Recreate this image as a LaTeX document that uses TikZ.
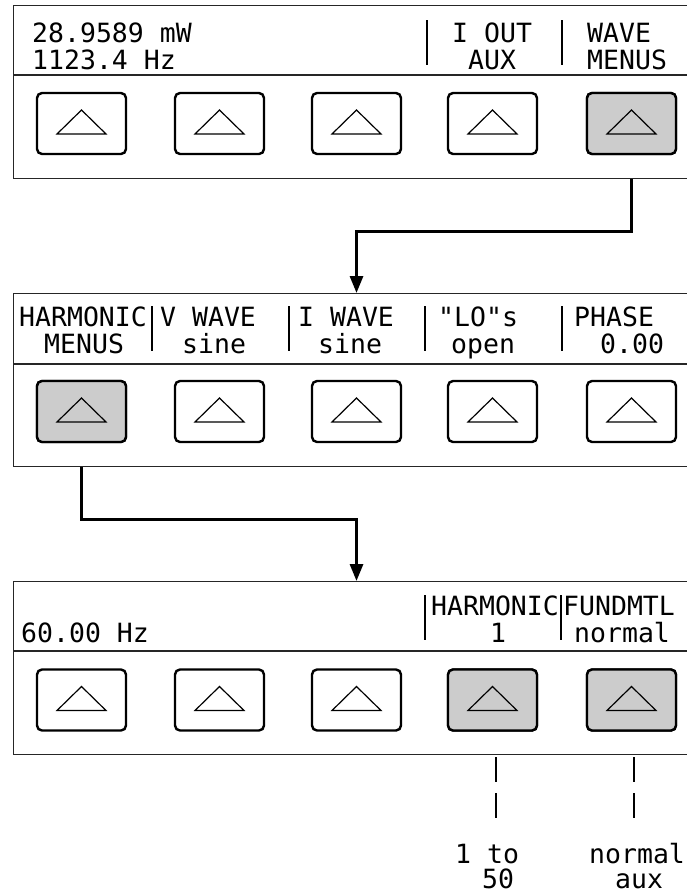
\documentclass[tikz,border=0pt]{standalone}
\usepackage{fontspec}
\newfontfamily\lcdfont{DejaVu Sans Mono}
\usetikzlibrary{arrows.meta}
\begin{document}
\begin{tikzpicture}[x=1pt,y=-1pt,
  panel/.style={draw=black!85, line width=1.3pt, inner sep=0pt, anchor=north west, minimum width=720pt},
  btn/.style={draw=black, line width=2.4pt, rounded corners=5pt, minimum width=89pt, minimum height=61pt, inner sep=0pt, fill=white},
  btnon/.style={btn, fill=black!20},
  lcd/.style={anchor=base west, inner sep=0pt, font=\lcdfont\fontsize{26.5}{26.5}\selectfont},
  sepline/.style={line width=2.4pt},
  conn/.style={line width=3pt, -{Triangle[length=17pt,width=13pt]}},
  hint/.style={line width=1.3pt, dash pattern=on 25pt off 11pt},
  tri/.style={line width=1.2pt}]
\useasboundingbox (0,0) rectangle (687,895);
\clip (0,0) rectangle (687,895);
\fill[white] (0,0) rectangle (687,895);

% panels
\node[panel, minimum height=173pt] (p1) at (13,5) {};
\node[panel, minimum height=173pt] (p2) at (13,293) {};
\node[panel, minimum height=173pt] (p3) at (13,581) {};
\draw[panel] (13,75) -- (733,75);
\draw[panel] (13,364) -- (733,364);
\draw[panel] (13,651) -- (733,651);

% buttons
\foreach \i/\x in {1/37,2/175,3/312,4/448,5/587}{
  \node[btn] (b1\i) at (\x+44.5,123.5) {};
  \node[btn] (b2\i) at (\x+44.5,411.5) {};
  \node[btn] (b3\i) at (\x+44.5,700) {};
}
\node[btnon] at (b15) {};
\node[btnon] at (b21) {};
\node[btnon] at (b34) {};
\node[btnon] at (b35) {};
\foreach \b in {b11,b12,b13,b14,b15,b21,b22,b23,b24,b25,b31,b32,b33,b34,b35}
  \draw[tri] ([shift={(-24.5pt,-10.5pt)}]\b.center) -- ([shift={(24.5pt,-10.5pt)}]\b.center) -- ([shift={(0pt,13.5pt)}]\b.center) -- cycle;

% panel 1 texts
\node[lcd] (t1a) at (32,42) {28.9589 mW};
\node[lcd] (t1b) at (32,69) {1123.4 Hz};
\node[lcd] (t1c) at (452,42) {I OUT};
\node[lcd] (t1d) at (468,69) {AUX};
\node[lcd] (t1e) at (587,42) {WAVE};
\node[lcd] (t1f) at (587,69) {MENUS};
\draw[sepline] (427,20) -- (427,65);
\draw[sepline] (562,20) -- (562,65);

% panel 2 texts
\node[lcd] (t2a) at (19,326) {HARMONIC};
\node[lcd] (t2b) at (44,353) {MENUS};
\node[lcd] (t2c) at (160,326) {V WAVE};
\node[lcd] (t2d) at (182,353) {sine};
\node[lcd] (t2e) at (298,326) {I WAVE};
\node[lcd] (t2f) at (318,353) {sine};
\node[lcd] (t2g) at (438,326) {"LO"s};
\node[lcd] (t2h) at (451,353) {open};
\node[lcd] (t2i) at (574,326) {PHASE};
\node[lcd] (t2j) at (600,353) {0.00};
\draw[sepline] (152,306) -- (152,351);
\draw[sepline] (289,306) -- (289,351);
\draw[sepline] (425,306) -- (425,351);
\draw[sepline] (562,306) -- (562,351);

% panel 3 texts
\node[lcd] (t3a) at (21,642) {60.00 Hz};
\node[lcd] (t3b) at (431,615) {HARMONIC};
\node[lcd] (t3c) at (490,642) {1};
\node[lcd] (t3d) at (563,615) {FUNDMTL};
\node[lcd] (t3e) at (574,642) {normal};
\draw[sepline] (425,595) -- (425,640);
\draw[sepline] (561,595) -- (561,640);

% connectors
\coordinate (k1) at (0,231);
\coordinate (k2) at (0,519);
\draw[conn] (b15 |- p1.south) -- (b15 |- k1) -| (b23 |- p2.north);
\draw[conn] (b21 |- p2.south) -- (b21 |- k2) -| (b23 |- p3.north);

% value hints
\node[lcd] (l1a) at (455,863) {1 to};
\node[lcd] (l1b) at (482,888) {50};
\node[lcd] (l2a) at (589,863) {normal};
\node[lcd] (l2b) at (615,888) {aux};
\coordinate (h1s) at (496,757);
\coordinate (h1e) at (496,819);
\coordinate (h2s) at (634,757);
\coordinate (h2e) at (634,819);
\draw[hint] (h1s) -- (h1e);
\draw[hint] (h2s) -- (h2e);
\end{tikzpicture}
\end{document}
